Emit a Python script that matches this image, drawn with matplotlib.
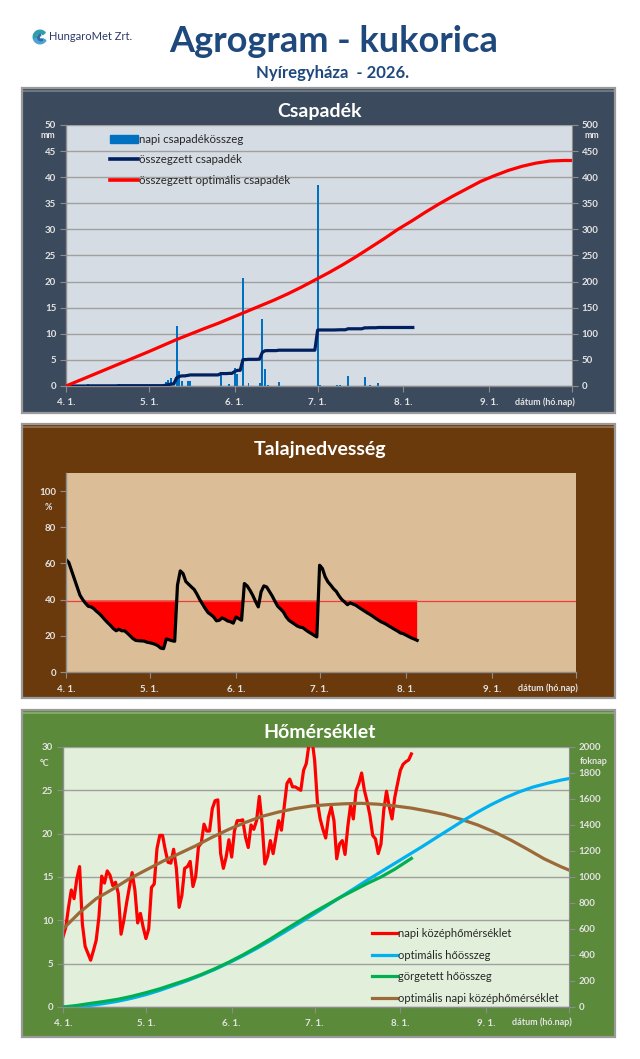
import numpy as np
import pandas as pd
import matplotlib
matplotlib.use("Agg")
import matplotlib.pyplot as plt
from matplotlib.patches import Rectangle, Wedge
from matplotlib.lines import Line2D

plt.rcParams['font.family'] = ['Lato', 'DejaVu Sans']

W, H = 640, 1059

START = "2026-04-01"
END = "2026-10-01"

# napi csapadékösszeg (mm), 04.01-től naponta
rain_mm = [
    0, 0, 0, 0, 0, 0, 0, 0, 0.3, 0,
    0, 0, 0, 0, 0, 0, 0, 0, 0, 0.3,
    0, 0, 0, 0, 0, 0, 0, 0, 0, 0,
    0, 0, 0, 0, 0, 0, 0.7, 1.2, 1.5, 0,
    11.5, 2.9, 1.0, 0, 0.9, 0.9, 0, 0, 0, 0,
    0, 0, 0, 0, 0, 0, 2.6, 0, 0, 0.4,
    0, 3.5, 2.3, 0, 20.6, 0, 0.5, 0, 0, 0,
    0.5, 12.8, 3.2, 0.2, 0, 0, 0, 0.8, 0, 0,
    0, 0, 0, 0, 0, 0, 0, 0, 0, 0,
    0, 38.5, 0.2, 0, 0, 0, 0, 0, 0.2, 0.2,
    0, 0, 1.9, 0, 0, 0, 0, 0, 1.8, 0,
    0.2, 0, 0, 0.5, 0, 0, 0, 0, 0, 0,
    0, 0, 0, 0, 0, 0, 0,
]

# összegzett optimális csapadék (mm)
opt_rain_day = [0, 5, 10, 15, 20, 25, 30, 35, 40, 45, 50, 55, 60, 65, 70, 75, 80, 85, 90,
                95, 100, 105, 110, 115, 120, 125, 130, 135, 140, 145, 150, 155, 160, 165,
                170, 175, 180, 183]
opt_rain_mm = [0, 11, 22, 33, 44, 55, 66, 77.5, 89, 99.5, 110, 120, 131, 142, 153, 164, 176,
               189, 203, 217, 232, 248, 265, 282, 300, 316, 333, 349, 364, 378, 392, 403,
               413, 421, 427, 431, 432, 432]

# talajnedvesség (%)
soil_pct = [
    62.2, 60.5, 56.0, 51.5, 47.0, 42.5, 40.0, 38.0, 36.3, 36.0,
    35.0, 33.5, 32.2, 30.6, 28.8, 27.2, 25.7, 24.0, 22.8, 23.6,
    22.8, 22.8, 21.5, 20.0, 18.5, 17.5, 17.3, 17.2, 17.1, 16.5,
    16.2, 15.8, 15.3, 14.5, 13.2, 12.9, 18.3, 17.8, 17.3, 17.0,
    48.0, 55.9, 54.4, 50.0, 48.5, 47.0, 45.6, 43.0, 40.0, 37.5,
    35.0, 32.8, 31.7, 30.4, 28.3, 28.6, 29.9, 29.2, 28.2, 27.8,
    27.0, 30.4, 29.5, 28.6, 48.9, 47.6, 45.2, 42.4, 39.0, 36.0,
    44.3, 47.6, 47.0, 44.5, 42.0, 39.0, 36.3, 34.8, 33.2, 30.5,
    28.6, 27.5, 26.5, 25.4, 24.8, 24.5, 23.3, 22.2, 21.3, 20.3,
    19.4, 59.0, 57.2, 52.6, 49.8, 48.0, 46.0, 44.5, 42.0, 40.0,
    38.7, 37.2, 38.2, 37.5, 36.9, 35.8, 34.8, 33.8, 32.8, 31.9,
    30.9, 29.8, 28.8, 27.8, 27.1, 26.3, 25.3, 24.4, 23.5, 22.6,
    21.6, 21.2, 20.4, 19.6, 18.8, 18.2, 17.5,
]
SOIL_LIMIT = 39.5

# napi középhőmérséklet (°C)
temp_c = [
    8.1, 9.2, 11.5, 13.5, 12.5, 14.8, 16.2, 9.6, 7.0, 6.2,
    5.4, 6.5, 7.7, 10.4, 15.1, 14.3, 15.7, 15.2, 14.0, 14.4,
    13.1, 8.4, 10.0, 12.0, 13.8, 15.5, 13.5, 9.7, 10.8, 9.2,
    7.9, 9.0, 13.8, 14.2, 18.3, 19.8, 19.8, 18.1, 16.7, 16.6,
    18.2, 16.0, 11.5, 12.9, 16.0, 16.2, 16.8, 13.9, 15.1, 18.5,
    18.9, 21.1, 20.3, 20.3, 22.9, 23.8, 23.9, 17.7, 16.0, 17.3,
    19.3, 17.3, 20.3, 21.5, 21.5, 21.6, 19.6, 18.4, 21.0, 20.5,
    21.5, 24.3, 21.2, 16.5, 17.4, 19.2, 17.7, 19.6, 21.5, 20.4,
    23.1, 25.8, 26.3, 25.4, 25.4, 25.2, 25.0, 27.3, 28.1, 30.4,
    31.0, 28.5, 23.7, 21.7, 20.5, 19.5, 21.9, 23.1, 21.5, 17.1,
    18.8, 19.2, 17.6, 20.8, 23.3, 21.7, 25.0, 25.8, 27.0, 25.0,
    23.7, 22.1, 19.8, 19.4, 17.7, 18.8, 22.7, 24.9, 23.1, 21.7,
    24.2, 25.8, 27.3, 28.0, 28.3, 28.5, 29.2,
]

# optimális napi középhőmérséklet (°C)
opt_temp_day = [0, 6, 12, 18, 24, 30, 36, 42, 48, 54, 60, 66, 72, 78, 84, 90, 96, 102, 108,
                114, 120, 126, 132, 138, 144, 150, 156, 162, 168, 174, 180, 183]
opt_temp_c = [9.0, 10.9, 12.5, 13.6, 14.8, 15.8, 16.8, 17.7, 18.6, 19.6, 20.5, 21.3, 22.0,
              22.5, 22.9, 23.2, 23.35, 23.45, 23.5, 23.4, 23.2, 22.95, 22.6, 22.2, 21.65,
              21.0, 20.2, 19.25, 18.2, 17.1, 16.2, 15.8]

# optimális hőösszeg (foknap)
opt_heat_day = [0, 5, 10, 15, 20, 25, 30, 35, 40, 45, 50, 55, 60, 65, 70, 75, 80, 85, 90,
                95, 100, 105, 110, 115, 120, 125, 130, 135, 140, 145, 150, 155, 160, 165,
                170, 175, 180, 183]
opt_heat = [0, 3, 12, 27, 45, 68, 95, 128, 165, 203, 245, 290, 340, 393, 450, 511, 575, 640,
            705, 772, 840, 907, 975, 1040, 1105, 1170, 1235, 1303, 1370, 1437, 1500, 1558,
            1610, 1655, 1692, 1720, 1745, 1757]

# görgetett hőösszeg (foknap)
heat_day = [0, 5, 10, 15, 20, 25, 30, 35, 40, 45, 50, 55, 60, 65, 70, 75, 80, 85, 90, 95,
            100, 105, 110, 115, 120, 126]
heat_sum = [0, 12, 28, 43, 60, 83, 110, 140, 175, 210, 250, 295, 345, 400, 460, 523, 590,
            655, 720, 780, 840, 895, 950, 1000, 1060, 1143]

start = pd.Timestamp(START)
end = pd.Timestamp(END)
daily = pd.date_range(START, periods=len(rain_mm), freq="D")


def to_dates(days):
    return start + pd.to_timedelta(days, unit="D")


def fx(x):
    return x / W


def fy(y):
    return 1 - y / H


def rect(x0, y0, x1, y1):
    return [x0 / W, 1 - y1 / H, (x1 - x0) / W, (y1 - y0) / H]


TICK_CLR = "#E3E3E3"
AX_CLR = "#8C8C8C"
GRID_CLR = "#A0A0A0"


def panel(y0, y1, color, title, title_y):
    fig.add_artist(Rectangle((fx(22), fy(y1)), fx(615) - fx(22), fy(y0) - fy(y1),
                             transform=fig.transFigure, facecolor=color,
                             edgecolor="#9A9A9A", linewidth=1.6, zorder=0))
    fig.add_artist(Line2D([fx(24), fx(613)], [fy(y0 + 2.5), fy(y0 + 2.5)],
                          transform=fig.transFigure, color="white", alpha=0.25,
                          linewidth=1.5, zorder=0))
    fig.text(0.5, fy(title_y), title, ha="center", va="center", color="white",
             fontsize=14, fontweight="bold")


def date_axis(ax):
    months = pd.date_range(START, END, freq="MS")
    labels = [f"{d.month}. {d.day}." for d in months[:-1]] + [""]
    ax.set_xlim(start, end)
    ax.set_xticks(months, labels=labels, fontweight="bold")
    ax.tick_params(axis="x", labelsize=7, labelcolor=TICK_CLR, color=AX_CLR,
                   length=4, pad=5)


def style(ax, face):
    ax.set_facecolor(face)
    ax.spines["top"].set_visible(False)
    ax.spines["right"].set_visible(False)
    for s in ("left", "bottom"):
        ax.spines[s].set_color(AX_CLR)
        ax.spines[s].set_linewidth(1.0)
    ax.tick_params(axis="y", labelsize=7, labelcolor=TICK_CLR, color=AX_CLR,
                   length=4, pad=3)


def style_right(ax2):
    for s in ("top", "left", "bottom"):
        ax2.spines[s].set_visible(False)
    ax2.spines["right"].set_color(AX_CLR)
    ax2.tick_params(axis="y", labelsize=7, labelcolor=TICK_CLR, color=AX_CLR,
                    length=4, pad=3)


fig = plt.figure(figsize=(W / 100, H / 100), dpi=100)
fig.patch.set_facecolor("white")

# fejléc
fig.text(fx(334), fy(41), "Agrogram - kukorica", ha="center", va="center",
         color="#1F497D", fontsize=26, fontweight="bold")
fig.text(fx(333), fy(73), "Nyíregyháza  - 2026.", ha="center", va="center",
         color="#1F497D", fontsize=12, fontweight="bold")

logo = fig.add_axes(rect(31, 29, 49, 45))
logo.set_xlim(-1, 1)
logo.set_ylim(-1, 1)
logo.set_aspect("equal")
logo.axis("off")
logo.add_patch(Wedge((0, 0), 0.85, 40, 200, width=0.38, color="#2E9FA8"))
logo.add_patch(Wedge((0, 0), 0.85, 200, 330, width=0.38, color="#4FA3D0"))
logo.add_patch(Wedge((0.12, -0.05), 0.42, 100, 300, width=0.2, color="#2F6DB0"))
fig.text(fx(49), fy(37), "HungaroMet Zrt.", ha="left", va="center",
         color="#2D3B6B", fontsize=8)

# ---------------- Csapadék ----------------
panel(88, 413, "#3B4A5C", "Csapadék", 112)
ax1 = fig.add_axes(rect(66, 125, 572, 386))
style(ax1, "#D6DCE4")
ax1.set_ylim(0, 50)
ax1.set_yticks(range(0, 51, 5), labels=[str(v) for v in range(0, 51, 5)],
               fontweight="bold")
ax1.grid(axis="y", color=GRID_CLR, linewidth=1.0)
ax1.set_axisbelow(True)
ax1.bar(daily, rain_mm, width=0.7, color="#0070C0", zorder=2)
date_axis(ax1)

ax1r = ax1.twinx()
style_right(ax1r)
ax1r.set_ylim(0, 500)
ax1r.set_yticks(range(0, 501, 50), labels=[str(v) for v in range(0, 501, 50)],
                fontweight="bold")
ax1r.plot(daily, np.cumsum(rain_mm), color="#002060", linewidth=2.3,
          solid_capstyle="butt")
ax1r.plot(to_dates(opt_rain_day), opt_rain_mm, color="#FF0000", linewidth=2.3)
ax1r.set_xlim(start, end)

h1 = [Rectangle((0, 0), 1, 1, color="#0070C0"),
      Line2D([], [], color="#002060", linewidth=2.6),
      Line2D([], [], color="#FF0000", linewidth=2.6)]
ax1r.legend(h1, ["napi csapadékösszeg", "összegzett csapadék",
                 "összegzett optimális csapadék"],
            loc="upper left", bbox_to_anchor=(0.087, 0.965), frameon=False,
            borderpad=0, borderaxespad=0, fontsize=8.3, handlelength=2.4,
            handleheight=0.7, handletextpad=0.15, labelspacing=0.8,
            labelcolor="#262626")

fig.text(fx(48), fy(136), "mm", ha="center", va="center", color=TICK_CLR,
         fontsize=6.5, fontweight="bold")
fig.text(fx(592), fy(136), "mm", ha="center", va="center", color=TICK_CLR,
         fontsize=6.5, fontweight="bold")
fig.text(fx(575), fy(402), "dátum (hó.nap)", ha="right", va="center",
         color=TICK_CLR, fontsize=6.5, fontweight="bold")

# ---------------- Talajnedvesség ----------------
panel(424, 698, "#6B3A0C", "Talajnedvesség", 449)
ax2 = fig.add_axes(rect(66, 473, 576, 672))
style(ax2, "#DBBE97")
ax2.set_ylim(0, 110)
ax2.set_yticks(range(0, 101, 20), labels=[str(v) for v in range(0, 101, 20)],
               fontweight="bold")
soil = np.array(soil_pct)
ax2.fill_between(daily, soil, SOIL_LIMIT, where=soil < SOIL_LIMIT,
                 interpolate=True, color="#FF0000", linewidth=0)
ax2.axhline(SOIL_LIMIT, color="#F03C3C", linewidth=0.9)
ax2.plot(daily, soil, color="black", linewidth=2.3)
date_axis(ax2)
fig.text(fx(48), fy(508), "%", ha="center", va="center", color=TICK_CLR,
         fontsize=6.5, fontweight="bold")
fig.text(fx(578), fy(688), "dátum (hó.nap)", ha="right", va="center",
         color=TICK_CLR, fontsize=6.5, fontweight="bold")

# ---------------- Hőmérséklet ----------------
panel(710, 1037, "#5A8A3A", "Hőmérséklet", 733)
ax3 = fig.add_axes(rect(63, 747, 569, 1007))
style(ax3, "#E2EFDA")
ax3.set_ylim(0, 30)
ax3.set_yticks(range(0, 31, 5), labels=[str(v) for v in range(0, 31, 5)],
               fontweight="bold")
ax3.grid(axis="y", color=GRID_CLR, linewidth=1.0)
ax3.set_axisbelow(True)
l_temp, = ax3.plot(daily, temp_c, color="#FF0000", linewidth=2.3)
l_opt_t, = ax3.plot(to_dates(opt_temp_day), opt_temp_c, color="#9C6A38",
                    linewidth=2.3)
date_axis(ax3)

ax3r = ax3.twinx()
style_right(ax3r)
ax3r.set_ylim(0, 2000)
ax3r.set_yticks(range(0, 2001, 200), labels=[str(v) for v in range(0, 2001, 200)],
                fontweight="bold")
l_opt_h, = ax3r.plot(to_dates(opt_heat_day), opt_heat, color="#00B0F0",
                     linewidth=2.3)
l_heat, = ax3r.plot(to_dates(heat_day), heat_sum, color="#00B050", linewidth=2.3)
ax3r.set_xlim(start, end)
ax3r.legend([l_temp, l_opt_h, l_heat, l_opt_t],
            ["napi középhőmérséklet", "optimális hőösszeg", "görgetett hőösszeg",
             "optimális napi középhőmérséklet"],
            loc="lower right", bbox_to_anchor=(0.98, 0.012), frameon=False,
            borderpad=0, borderaxespad=0, fontsize=8, handlelength=2.2,
            handletextpad=0.15, labelspacing=0.95, labelcolor="#262626")

fig.text(fx(45), fy(763), "°C", ha="center", va="center", color=TICK_CLR,
         fontsize=6.5, fontweight="bold")
fig.text(fx(594), fy(762), "foknap", ha="center", va="center", color=TICK_CLR,
         fontsize=6.5, fontweight="bold")
fig.text(fx(572), fy(1022), "dátum (hó.nap)", ha="right", va="center",
         color=TICK_CLR, fontsize=6.5, fontweight="bold")

fig.savefig("out.png", dpi=100)
